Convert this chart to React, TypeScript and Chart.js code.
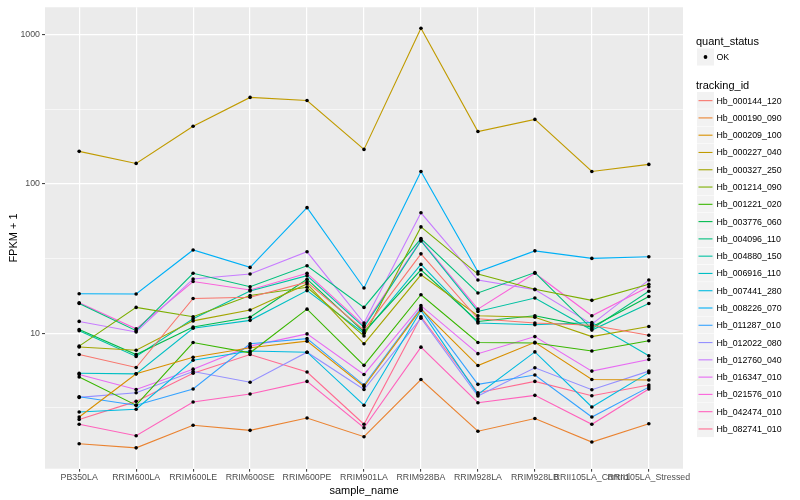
import React, { useEffect, useRef } from "react";
import { Chart, registerables } from "chart.js";

Chart.register(...registerables);

const sampleNames = [
  "PB350LA", "RRIM600LA", "RRIM600LE", "RRIM600SE", "RRIM600PE", "RRIM901LA",
  "RRIM928BA", "RRIM928LA", "RRIM928LB", "RRII105LA_Control", "RRII105LA_Stressed",
];

const trackingIds = [
  "Hb_000144_120", "Hb_000190_090", "Hb_000209_100", "Hb_000227_040", "Hb_000327_250",
  "Hb_001214_090", "Hb_001221_020", "Hb_003776_060", "Hb_004096_110", "Hb_004880_150",
  "Hb_006916_110", "Hb_007441_280", "Hb_008226_070", "Hb_011287_010", "Hb_012022_080",
  "Hb_012760_040", "Hb_016347_010", "Hb_021576_010", "Hb_042474_010", "Hb_082741_010",
];

const seriesColors = [
  "#F8766D", "#EA8331", "#D89000", "#C09B00", "#A3A500", "#7CAE00", "#39B600", "#00BB4E",
  "#00BF7D", "#00C1A3", "#00BFC4", "#00BAE0", "#00B0F6", "#35A2FF", "#9590FF", "#C77CFF",
  "#E76BF3", "#FA62DB", "#FF62BC", "#FF6C91",
];

// FPKM + 1 per sample (same order as sampleNames)
const hb000144_120 = [7.2, 5.9, 17.1, 17.4, 22.0, 10.5, 34, 12.5, 11.7, 11.3, 9.7];
const hb000190_090 = [1.82, 1.71, 2.42, 2.24, 2.71, 2.03, 4.9, 2.21, 2.69, 1.87, 2.48];
const hb000209_100 = [2.75, 5.35, 6.9, 8.0, 8.85, 4.4, 14.5, 6.08, 8.7, 4.9, 4.86];
const hb000227_040 = [165, 137, 243, 379, 361, 170, 1100, 224, 270, 121, 135];
const hb000327_250 = [8.1, 7.7, 12.1, 14.3, 21.4, 8.5, 24.6, 13.1, 12.8, 9.5, 11.1];
const hb001214_090 = [8.2, 14.9, 12.9, 17.9, 20.3, 9.6, 51.5, 24.9, 19.7, 16.6, 21.3];
const hb001221_020 = [5.1, 3.3, 8.67, 7.4, 14.5, 6.1, 18.1, 8.67, 8.6, 7.6, 8.9];
const hb003776_060 = [10.6, 7.2, 11.0, 12.8, 23.0, 10.2, 26.6, 12.0, 13.1, 11.0, 17.6];
const hb004096_110 = [15.8, 10.4, 25.2, 20.5, 28.3, 14.9, 43, 18.6, 25.5, 10.7, 19.1];
const hb004880_150 = [10.4, 7.0, 12.5, 19.2, 24.3, 11.0, 41.5, 14.0, 17.2, 10.5, 15.8];
const hb006916_110 = [5.4, 5.35, 10.8, 12.2, 19.3, 10.0, 28.9, 11.7, 11.4, 11.8, 7.06];
const hb007441_280 = [2.97, 3.1, 6.6, 7.6, 7.47, 3.3, 14.2, 3.9, 7.5, 3.21, 5.45];
const hb008226_070 = [18.4, 18.3, 36.1, 27.6, 69.3, 20.1, 121, 25.8, 35.6, 31.7, 32.5];
const hb011287_010 = [3.76, 3.3, 4.24, 8.5, 9.2, 4.5, 14.8, 4.55, 5.25, 2.75, 4.36];
const hb012022_080 = [3.72, 4.0, 5.55, 4.7, 7.47, 4.2, 12.6, 3.8, 5.87, 4.19, 5.58];
const hb012760_040 = [12.0, 10.2, 23.1, 24.9, 35.1, 11.7, 64, 22.7, 19.6, 11.5, 22.7];
const hb016347_010 = [5.3, 4.2, 5.75, 8.2, 9.9, 5.3, 15.3, 7.3, 9.5, 5.58, 6.67];
const hb021576_010 = [16.0, 10.7, 22.2, 19.5, 25.2, 11.3, 42, 14.5, 25.2, 13.1, 20.5];
const hb042474_010 = [2.46, 2.06, 3.47, 3.92, 4.76, 2.33, 8.07, 3.43, 3.84, 2.46, 4.24];
const hb082741_010 = [2.65, 3.5, 5.4, 7.2, 5.5, 2.46, 12.9, 4.0, 4.76, 3.82, 4.5];

const seriesValues = [
  hb000144_120, hb000190_090, hb000209_100, hb000227_040, hb000327_250,
  hb001214_090, hb001221_020, hb003776_060, hb004096_110, hb004880_150,
  hb006916_110, hb007441_280, hb008226_070, hb011287_010, hb012022_080,
  hb012760_040, hb016347_010, hb021576_010, hb042474_010, hb082741_010,
];

const yMajorTicks = [10, 100, 1000];
const yMinorTicks = [3.162, 31.62, 316.2];

const FONT = "'Liberation Sans', Arial, Helvetica, sans-serif";

const panelBackground = {
  id: "panelBackground",
  beforeDraw(chart: any) {
    const { ctx, chartArea: a } = chart;
    ctx.save();
    ctx.fillStyle = "#EBEBEB";
    ctx.fillRect(a.left, a.top, a.right - a.left, a.bottom - a.top);
    ctx.restore();
  },
};

function App() {
  const canvasRef = useRef<HTMLCanvasElement | null>(null);

  useEffect(() => {
    if (!canvasRef.current) return;
    const lineSets = seriesValues.map((vals, i) => ({
      label: trackingIds[i],
      data: vals.map((v, j) => ({ x: j, y: v })),
      borderColor: seriesColors[i],
      backgroundColor: seriesColors[i],
      borderWidth: 1.1,
      pointRadius: 0,
      fill: false,
      tension: 0,
      order: 2,
    }));
    const pointSets = seriesValues.map((vals, i) => ({
      label: trackingIds[i] + " OK",
      data: vals.map((v, j) => ({ x: j, y: v })),
      showLine: false,
      pointRadius: 1.8,
      pointBorderWidth: 0,
      pointBackgroundColor: "#000000",
      borderColor: "#000000",
      order: 1,
    }));
    const isMajor = (v: number) => yMajorTicks.includes(v);
    const chart = new Chart(canvasRef.current, {
      type: "line",
      data: { datasets: [...lineSets, ...pointSets] as any },
      plugins: [panelBackground],
      options: {
        animation: false,
        responsive: false,
        devicePixelRatio: 1,
        layout: { padding: { left: 0, right: 117, top: 3, bottom: 0 } },
        plugins: { legend: { display: false }, tooltip: { enabled: false } },
        scales: {
          x: {
            type: "linear",
            min: -0.6,
            max: sampleNames.length - 1 + 0.6,
            afterBuildTicks: (s: any) => {
              s.ticks = sampleNames.map((_, i) => ({ value: i }));
            },
            afterFit: (s: any) => {
              s.height = 31.3;
            },
            ticks: {
              autoSkip: false,
              maxRotation: 0,
              minRotation: 0,
              padding: 1,
              color: "#4D4D4D",
              font: { family: FONT, size: 8.8 },
              callback: (v: any) => sampleNames[Math.round(Number(v))],
            },
            grid: {
              color: "#FFFFFF",
              lineWidth: 1.2,
              tickColor: "#333333",
              tickLength: 3,
              tickWidth: 1,
            },
            border: { display: false },
            title: {
              display: true,
              text: "sample_name",
              color: "#000000",
              font: { family: FONT, size: 11 },
              padding: { top: 0, bottom: 2 },
            },
          },
          y: {
            type: "logarithmic",
            min: 1.24,
            max: 1520,
            afterBuildTicks: (s: any) => {
              s.ticks = [...yMinorTicks, ...yMajorTicks]
                .sort((a, b) => a - b)
                .map((v) => ({ value: v }));
            },
            afterFit: (s: any) => {
              s.width = 45;
            },
            ticks: {
              padding: 2,
              color: "#4D4D4D",
              font: { family: FONT, size: 8.8 },
              callback: (v: any) => (isMajor(Number(v)) ? String(v) : ""),
            },
            grid: {
              color: "#FFFFFF",
              lineWidth: (ctx: any) => (ctx.tick && isMajor(ctx.tick.value) ? 1.2 : 0.6),
              tickColor: (ctx: any) =>
                ctx.tick && isMajor(ctx.tick.value) ? "#333333" : "rgba(0,0,0,0)",
              tickLength: 3,
              tickWidth: 1,
            },
            border: { display: false },
            title: {
              display: true,
              text: "FPKM + 1",
              color: "#000000",
              font: { family: FONT, size: 11 },
              padding: { top: 7, bottom: 4 },
            },
          },
        },
      } as any,
    });
    return () => chart.destroy();
  }, []);

  const keyH = 17.28;
  const keyTop0 = 92;

  return (
    <div
      style={{
        position: "fixed",
        left: 0,
        top: 0,
        width: 800,
        height: 500,
        background: "#FFFFFF",
        fontFamily: FONT,
      }}
    >
      <canvas ref={canvasRef} width={800} height={500} style={{ position: "absolute", left: 0, top: 0 }} />
      <svg
        width={20}
        height={420}
        style={{ position: "absolute", left: 696, top: 45 }}
        viewBox="0 0 20 420"
      >
        <rect x={1} y={3.5} width={17} height={17} fill="#F2F2F2" />
        <circle cx={9.5} cy={12} r={1.9} fill="#000000" />
        {trackingIds.map((id, i) => {
          const top = keyTop0 - 45 + i * keyH;
          return (
            <g key={id}>
              <rect x={1} y={top} width={17} height={keyH - 0.5} fill="#F2F2F2" />
              <line
                x1={2.5}
                x2={16.5}
                y1={top + keyH / 2}
                y2={top + keyH / 2}
                stroke={seriesColors[i]}
                strokeWidth={1.1}
              />
            </g>
          );
        })}
      </svg>
      <div style={{ position: "absolute", left: 696, top: 34.5, fontSize: 11, lineHeight: "12px", color: "#000", whiteSpace: "nowrap" }}>
        quant_status
      </div>
      <div style={{ position: "absolute", left: 716.5, top: 52, fontSize: 8.8, lineHeight: "10px", color: "#000", whiteSpace: "nowrap" }}>
        OK
      </div>
      <div style={{ position: "absolute", left: 696, top: 78.5, fontSize: 11, lineHeight: "12px", color: "#000", whiteSpace: "nowrap" }}>
        tracking_id
      </div>
      {trackingIds.map((id, i) => {
        const top = keyTop0 + i * keyH;
        return (
          <div
            key={id}
            style={{
              position: "absolute",
              left: 716.5,
              top: top + keyH / 2 - 5,
              fontSize: 8.8,
              lineHeight: "10px",
              color: "#000",
              whiteSpace: "nowrap",
            }}
          >
            {id}
          </div>
        );
      })}
    </div>
  );
}

export default App;
